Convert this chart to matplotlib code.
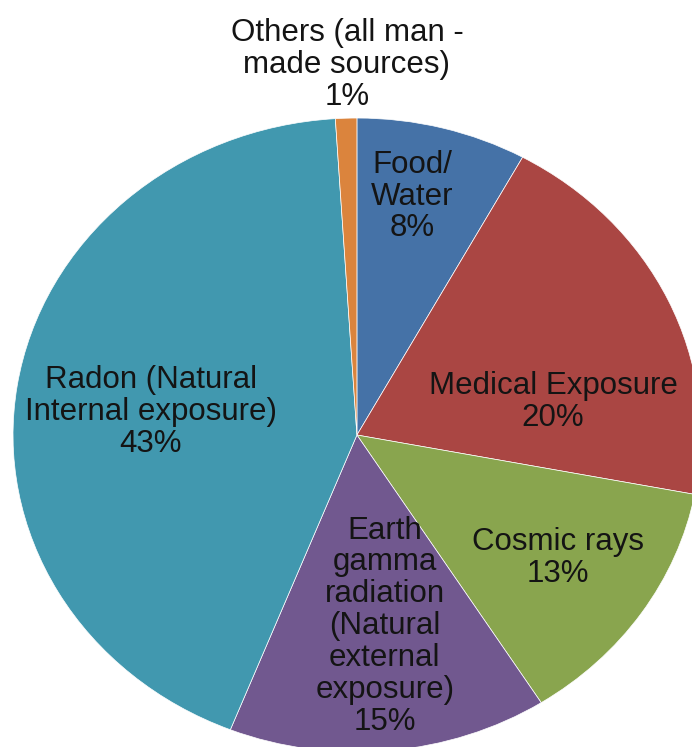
import matplotlib.pyplot as plt

plt.rcParams['font.family'] = ['Liberation Sans', 'DejaVu Sans']

labels = ["Food/\nWater", "Medical Exposure", "Cosmic rays",
          "Earth\ngamma\nradiation\n(Natural\nexternal\nexposure)",
          "Radon (Natural\nInternal exposure)",
          "Others (all man -\nmade sources)"]
shares = [8, 20, 13, 15, 43, 1]
colors = ["#4572A7", "#AA4643", "#89A54E", "#71588F", "#4198AF", "#DB843D"]

# label centres in data units (pie radius = 1)
label_xy = [(0.16, 0.752), (0.57, 0.104), (0.584, -0.388),
            (0.081, -0.603), (-0.60, 0.073), (-0.029, 1.168)]

fig = plt.figure(figsize=(6.92, 7.47), dpi=100)
ax = fig.add_axes([0.0188, -0.0067, 0.994, 0.8487])
ax.pie(shares, colors=colors, startangle=90, counterclock=False,
       radius=1, wedgeprops=dict(edgecolor="white", linewidth=0.5))
ax.set_aspect('auto')
ax.set_xlim(-1, 1)
ax.set_ylim(-1, 1)
ax.axis('off')

for lab, val, (x, y) in zip(labels, shares, label_xy):
    ax.text(x, y, f"{lab}\n{val}%", ha='center', va='center',
            fontsize=22.5, color="#141414", linespacing=1.08, clip_on=False)

fig.savefig("out.png", dpi=100)
